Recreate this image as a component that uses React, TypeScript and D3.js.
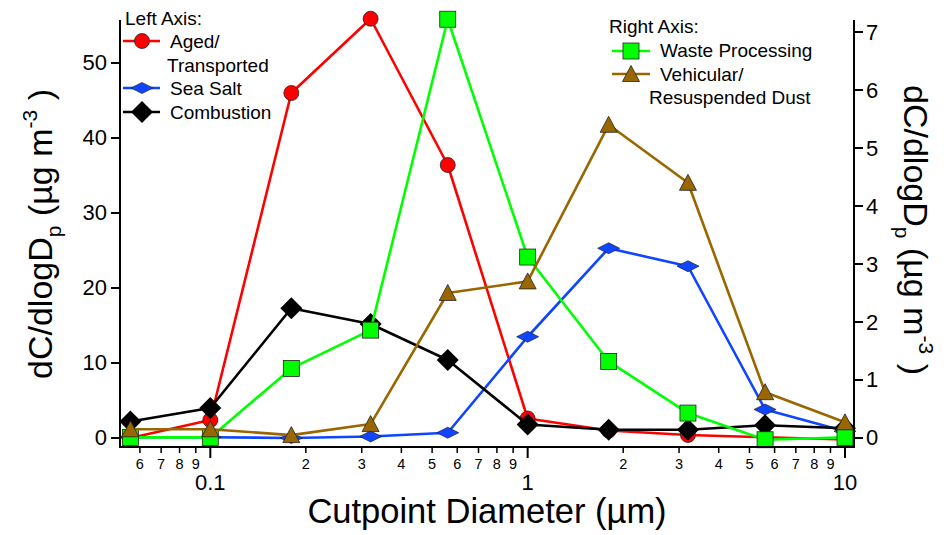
import React from "react";
import * as d3 from "d3";

const cutpoints = [0.056, 0.1, 0.18, 0.32, 0.56, 1.0, 1.8, 3.2, 5.6, 10];
const agedTransported = [0.0, 2.4, 46.0, 55.9, 36.4, 2.6, 1.0, 0.4, 0.1, -0.2];
const seaSalt = [0.1, 0.1, 0.0, 0.2, 0.7, 13.5, 25.3, 22.9, 3.8, 0.9];
const combustion = [2.2, 4.0, 17.3, 15.2, 10.4, 1.8, 1.1, 1.1, 1.7, 1.3];
const wasteProcessing = [0.01, 0.01, 1.2, 1.86, 7.22, 3.12, 1.32, 0.43, -0.03, 0.01];
const vehicularDust = [0.15, 0.15, 0.05, 0.24, 2.5, 2.7, 5.4, 4.4, 0.79, 0.27];

const leftTicks = [0, 10, 20, 30, 40, 50];
const rightTicks = [0, 1, 2, 3, 4, 5, 6, 7];
const majorX = [0.1, 1, 10];
const minorX = [0.06, 0.07, 0.08, 0.09, 0.2, 0.3, 0.4, 0.5, 0.6, 0.7, 0.8, 0.9, 2, 3, 4, 5, 6, 7, 8, 9];

const FONT = "'Liberation Sans', Arial, Helvetica, sans-serif";

const X0 = 120, X1 = 854, Y0 = 20, Y1 = 447;

const x = d3.scaleLog().domain([0.05193, 10.675]).range([X0, X1]);
const yL = d3.scaleLinear().domain([-1.2, 55.733]).range([Y1, Y0]);
const yR = d3.scaleLinear().domain([-0.1552, 7.207]).range([Y1, Y0]);

type Marker = "circle" | "square" | "diamond" | "flatDiamond" | "triangle";

function MarkerShape({ type, cx, cy, fill }: { type: Marker; cx: number; cy: number; fill: string }) {
  const stroke = "#222";
  if (type === "circle") return <circle cx={cx} cy={cy} r={7.5} fill={fill} stroke={stroke} strokeWidth={0.8} />;
  if (type === "square") return <rect x={cx - 8} y={cy - 8} width={16} height={16} fill={fill} stroke={stroke} strokeWidth={0.8} />;
  if (type === "diamond") return <path d={`M${cx},${cy - 11}L${cx + 11},${cy}L${cx},${cy + 11}L${cx - 11},${cy}Z`} fill={fill} />;
  if (type === "flatDiamond") return <path d={`M${cx},${cy - 5.5}L${cx + 11},${cy}L${cx},${cy + 5.5}L${cx - 11},${cy}Z`} fill={fill} stroke={stroke} strokeWidth={0.7} />;
  return <path d={`M${cx},${cy - 8.5}L${cx + 8.5},${cy + 7.5}L${cx - 8.5},${cy + 7.5}Z`} fill={fill} stroke={stroke} strokeWidth={0.8} />;
}

const series = [
  { name: "Aged/Transported", values: agedTransported, axis: "L", color: "#ff0000", marker: "circle" as Marker },
  { name: "Sea Salt", values: seaSalt, axis: "L", color: "#0f45ff", marker: "flatDiamond" as Marker },
  { name: "Combustion", values: combustion, axis: "L", color: "#000000", marker: "diamond" as Marker },
  { name: "Waste Processing", values: wasteProcessing, axis: "R", color: "#00ff00", marker: "square" as Marker },
  { name: "Vehicular/Resuspended Dust", values: vehicularDust, axis: "R", color: "#996600", marker: "triangle" as Marker },
];

export default function App() {
  return (
    <svg width={951} height={535} style={{ position: "absolute", left: 0, top: 0, background: "#fff" }} fontFamily={FONT}>
      <rect width={951} height={535} fill="#fff" />
      {/* Series */}
      {series.map((s) => {
        const ys = s.axis === "L" ? yL : yR;
        const line = d3.line<number>().x((_, i) => x(cutpoints[i])).y((v) => ys(v));
        return (
          <g key={s.name}>
            <path d={line(s.values) || ""} fill="none" stroke={s.color} strokeWidth={2.6} strokeLinejoin="round" />
            {s.values.map((v, i) => (
              <MarkerShape key={i} type={s.marker} cx={x(cutpoints[i])} cy={ys(v)} fill={s.color} />
            ))}
          </g>
        );
      })}

      {/* Axes lines */}
      <line x1={X0} y1={Y0} x2={X0} y2={Y1} stroke="#000" strokeWidth={2} />
      <line x1={X1} y1={Y0} x2={X1} y2={Y1} stroke="#000" strokeWidth={2} />
      <line x1={X0 - 1} y1={Y1} x2={X1 + 1} y2={Y1} stroke="#000" strokeWidth={2} />

      {/* Left ticks */}
      {leftTicks.map((t) => (
        <g key={"l" + t}>
          <line x1={X0 - 9} x2={X0} y1={yL(t)} y2={yL(t)} stroke="#000" strokeWidth={2} />
          <text x={X0 - 13} y={yL(t) + 7.5} fontSize={22} textAnchor="end">{t}</text>
        </g>
      ))}
      {/* Right ticks */}
      {rightTicks.map((t) => (
        <g key={"r" + t}>
          <line x1={X1} x2={X1 + 9} y1={yR(t)} y2={yR(t)} stroke="#000" strokeWidth={2} />
          <text x={X1 + 12} y={yR(t) + 7.5} fontSize={22} textAnchor="start">{t}</text>
        </g>
      ))}
      {/* Bottom ticks */}
      {majorX.map((t) => (
        <g key={"M" + t}>
          <line x1={x(t)} x2={x(t)} y1={Y1} y2={Y1 + 11} stroke="#000" strokeWidth={2} />
          <text x={x(t)} y={490} fontSize={22} textAnchor="middle">{t}</text>
        </g>
      ))}
      {minorX.map((t) => (
        <g key={"m" + t}>
          <line x1={x(t)} x2={x(t)} y1={Y1} y2={Y1 + 6} stroke="#000" strokeWidth={1.5} />
          <text x={x(t)} y={469} fontSize={14.5} textAnchor="middle">{String(Math.round(t / Math.pow(10, Math.floor(Math.log10(t) + 1e-9))))}</text>
        </g>
      ))}

      {/* Axis titles */}
      <text x={487} y={523} fontSize={34.5} textAnchor="middle">Cutpoint Diameter (µm)</text>
      <text transform="translate(52,234) rotate(-90)" fontSize={34} textAnchor="middle">
        dC/dlogD<tspan dy={9} fontSize={21}>p</tspan><tspan dy={-9}> (µg m</tspan><tspan dy={-15} fontSize={21}>-3</tspan><tspan dy={15}> )</tspan>
      </text>
      <text transform="translate(904,230) rotate(90)" fontSize={34} textAnchor="middle">
        dC/dlogD<tspan dy={9} fontSize={21}>p</tspan><tspan dy={-9}> (µg m</tspan><tspan dy={-15} fontSize={21}>-3</tspan><tspan dy={15}> )</tspan>
      </text>

      {/* Left legend */}
      <g fontSize={19}>
        <text x={125} y={25}>Left Axis:</text>
        <line x1={123} x2={160} y1={41} y2={41} stroke="#ff0000" strokeWidth={2.6} />
        <MarkerShape type="circle" cx={142} cy={41} fill="#ff0000" />
        <text x={170} y={48}>Aged/</text>
        <text x={167} y={72}>Transported</text>
        <line x1={123} x2={160} y1={88} y2={88} stroke="#0f45ff" strokeWidth={2.6} />
        <MarkerShape type="flatDiamond" cx={142} cy={88} fill="#0f45ff" />
        <text x={170} y={95}>Sea Salt</text>
        <line x1={123} x2={160} y1={112} y2={112} stroke="#000" strokeWidth={2.6} />
        <MarkerShape type="diamond" cx={142} cy={112} fill="#000" />
        <text x={170} y={119}>Combustion</text>
      </g>
      {/* Right legend */}
      <g fontSize={19}>
        <text x={609} y={33}>Right Axis:</text>
        <line x1={612} x2={650} y1={51} y2={51} stroke="#00ff00" strokeWidth={2.6} />
        <MarkerShape type="square" cx={631} cy={51} fill="#00ff00" />
        <text x={660} y={57}>Waste Processing</text>
        <line x1={612} x2={650} y1={74} y2={74} stroke="#996600" strokeWidth={2.6} />
        <MarkerShape type="triangle" cx={631} cy={74} fill="#996600" />
        <text x={660} y={81}>Vehicular/</text>
        <text x={649} y={104}>Resuspended Dust</text>
      </g>
    </svg>
  );
}
